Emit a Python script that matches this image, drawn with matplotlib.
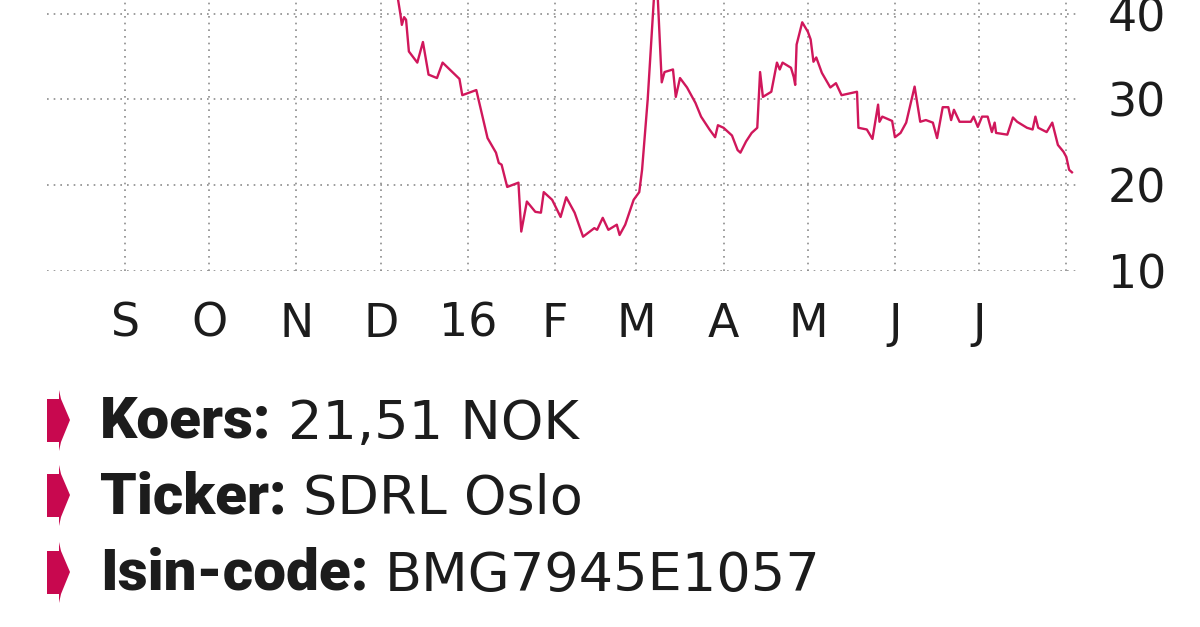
import numpy as np
import pandas as pd
import matplotlib
matplotlib.use("Agg")
import matplotlib.pyplot as plt
from matplotlib.patches import Polygon

# koers SDRL (NOK), dagen gerekend vanaf 1 september 2015
start = pd.Timestamp("2015-09-01")
days = [-28, -15, 0, 14, 30, 45, 61, 75, 91, 96, 98, 98.5, 99.3, 100, 101, 104, 106,
        108, 111, 113, 119, 120, 125, 129, 132, 133, 134, 136, 140, 141, 143, 146,
        148, 149, 152, 155, 157, 160, 163, 167, 168, 170, 172, 175, 176, 178, 181,
        183, 184, 186, 189, 191, 192, 195, 196, 197.5, 200, 203, 205, 208, 210, 211,
        213, 215, 216, 218, 219, 221, 223, 225, 226, 227, 230, 232, 233, 234, 237,
        238, 238.5, 239, 241, 243, 244, 245, 246, 248, 251, 253, 255, 260.5, 261,
        264, 266, 268, 268.5, 269.5, 273, 274, 276, 278, 281, 283, 285, 287.5, 289,
        291, 293, 294, 295, 297, 301, 302, 303.5, 305, 307, 308.5, 309.5, 310, 314,
        316, 317.5, 319.5, 321, 323, 324, 325, 328, 330, 332, 334, 335, 336, 337]
prices = [70, 62, 55, 50, 52, 57, 53, 50, 47, 44, 39.9, 38.7, 39.6, 39.3, 35.6, 34.3, 36.7,
          32.9, 32.5, 34.3, 32.4, 30.5, 31.1, 25.5, 23.8, 22.6, 22.4, 19.8, 20.3, 14.6, 18.1, 16.9,
          16.8, 19.2, 18.3, 16.3, 18.6, 16.8, 14.0, 15.0, 14.8, 16.2, 14.8, 15.4, 14.2, 15.4, 18.3,
          19.2, 21.8, 30, 46, 32, 33.2, 33.5, 30.3, 32.5, 31.4, 29.6, 28.0, 26.5, 25.6, 27.0,
          26.7, 26.1, 25.8, 24.1, 23.8, 25.1, 26.1, 26.7, 33.2, 30.3, 30.9, 34.3, 33.5, 34.3, 33.7,
          32.6, 31.7, 36.4, 39.0, 37.9, 37.0, 34.4, 34.9, 33.1, 31.4, 31.9, 30.5, 30.9, 26.7,
          26.5, 25.4, 29.4, 27.4, 28.0, 27.5, 25.6, 26.1, 27.3, 31.5, 27.4, 27.6, 27.3, 25.5,
          29.1, 29.1, 27.6, 28.8, 27.4, 27.4, 28.0, 26.8, 28.0, 28.0, 26.2, 27.3, 26.1, 25.9,
          27.9, 27.4, 27.0, 26.7, 26.5, 28.0, 26.7, 26.2, 27.3, 24.7, 23.9, 23.3, 21.8, 21.51]

month_labels = ["S", "O", "N", "D", "16", "F", "M", "A", "M", "J", "J", ""]
y_ticks = [10, 20, 30, 40]

info_labels = ["Koers:", "Ticker:", "Isin-code:"]
info_values = ["21,51 NOK", "SDRL Oslo", "BMG7945E1057"]

line_color = "#d0175b"
bullet_color = "#c8084f"
text_color = "#1c1c1c"

dates = start + pd.to_timedelta(days, unit="D")
months = pd.date_range("2015-09-01", periods=12, freq="MS")

W, H = 1200, 627
fig = plt.figure(figsize=(12, 6.27), dpi=100)
fig.patch.set_facecolor("white")

ax = fig.add_axes([47 / W, 1 - 271 / H, (1077 - 47) / W, 271 / H])
ax.plot(dates, prices, color=line_color, lw=1.7, zorder=3)
ax.set_xlim(start - pd.Timedelta(days=27.8), start + pd.Timedelta(days=338.8))
ax.set_ylim(10, 41.6)

ax.set_xticks(months)
ax.set_xticklabels(month_labels)
ax.set_yticks(y_ticks)
ax.yaxis.tick_right()
ax.tick_params(axis="both", length=0, labelcolor=text_color)
ax.tick_params(axis="x", pad=22, labelsize=33)
ax.tick_params(axis="y", pad=22, labelsize=33)
for lab in ax.get_xticklabels() + ax.get_yticklabels():
    lab.set_family("DejaVu Sans")

ax.grid(True, color="#8c8c8c", linestyle=(0, (1, 3)), linewidth=1.2)
for s in ax.spines.values():
    s.set_visible(False)

# info block in pixel coordinates
ov = fig.add_axes([0, 0, 1, 1])
ov.set_xlim(0, W)
ov.set_ylim(H, 0)
ov.axis("off")

baselines = [438, 513, 590]
for lab, val, yb in zip(info_labels, info_values, baselines):
    yc = yb - 18
    bullet = [(47, yc - 21), (59, yc - 21), (59, yc - 30), (61, yc - 21), (70, yc),
              (61, yc + 22), (59, yc + 31), (59, yc + 22), (47, yc + 22)]
    ov.add_patch(Polygon(bullet, closed=True, color=bullet_color, lw=0))
    t = ov.text(100, yb, lab, fontsize=42, fontweight=900, family="Roboto",
                color=text_color, va="baseline", ha="left")
    ov.annotate(val, xy=(1, 0), xycoords=t, xytext=(12, 0), textcoords="offset points",
                fontsize=39, family="DejaVu Sans", color=text_color,
                va="bottom", ha="left")

fig.savefig("out.png", dpi=100, facecolor="white")
